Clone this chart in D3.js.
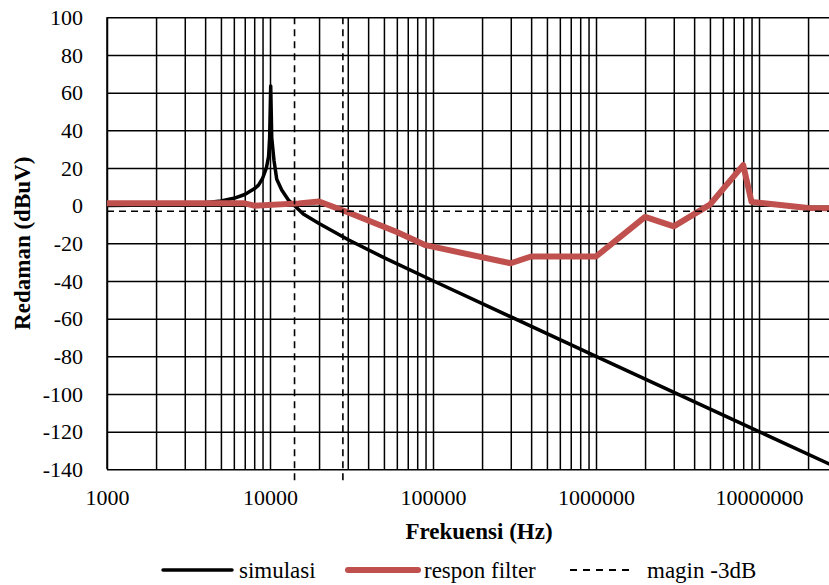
<!DOCTYPE html>
<html>
<head>
<meta charset="utf-8">
<script src="https://cdn.jsdelivr.net/npm/d3@7"></script>
<style>
  body { margin: 0; background: #fff; }
  text { font-family: "Liberation Serif", "Times New Roman", serif; fill: #000; }
</style>
</head>
<body>
<svg id="chart" width="829" height="585"></svg>
<script>
// simulasi (black)
const simFreq = [1000, 2000, 3000, 4000, 5000, 6000, 7000, 8000, 8500, 9000, 9500, 9800, 9950, 10100,
  10250, 10580, 11000, 11800, 13000, 14142, 16000, 20000, 30000, 50000, 100000, 1000000, 10000000, 30000000];
const simDb = [0.1, 0.4, 0.8, 1.5, 2.5, 3.9, 5.9, 8.9, 10.9, 14.4, 20, 26, 36, 63.5,
  36, 24, 14, 8.3, 2.9, 0, -4.4, -9.5, -18, -27.6, -39.9, -80, -120, -139];

// respon filter (red)
const filterFreq = [1000, 7000, 8000, 15000, 20000, 30000, 60000, 90000, 300000, 400000, 1000000,
  2000000, 3000000, 5000000, 8000000, 9000000, 20000000, 30000000];
const filterDb = [1.2, 1.2, 0, 1.2, 2.2, -3.5, -14, -21, -30.6, -27, -27,
  -6, -11, 0.5, 21.5, 2, -1.3, -1.5];

// magin -3dB (dashed)
const marginLevel = -3;
const marginFreqs = [14142, 28000];
const marginSpan = [100, -148];

const xTicks = [1000, 10000, 100000, 1000000, 10000000];
const yTicks = [-140, -120, -100, -80, -60, -40, -20, 0, 20, 40, 60, 80, 100];
const legendLabels = ["simulasi", "respon filter", "magin -3dB"];

const svg = d3.select("#chart");
const plotLeft = 107, plotTop = 17.3, plotBottom = 469.3;

const x = d3.scaleLog().domain([1000, 30000000]).range([plotLeft, plotLeft + 163 * Math.log10(30000)]);
const y = d3.scaleLinear().domain([-140, 100]).range([plotBottom, plotTop]);

// minor + major vertical grid (1..9 per decade)
let gridX = [];
for (let e = 3; e <= 7; e++) {
  for (let k = 1; k <= 9; k++) {
    const v = k * Math.pow(10, e);
    if (v <= 30000000) gridX.push(v);
  }
}

const gx = svg.append("g")
  .attr("transform", `translate(0,${plotBottom})`)
  .call(d3.axisBottom(x).tickValues(gridX).tickSize(-(plotBottom - plotTop)).tickFormat(""));
gx.select(".domain").remove();
gx.selectAll("line").attr("stroke", "#000").attr("stroke-width", 1.5);

const gy = svg.append("g")
  .attr("transform", `translate(${plotLeft},0)`)
  .call(d3.axisLeft(y).tickValues(yTicks).tickSize(-(x.range()[1] - plotLeft)).tickFormat(""));
gy.select(".domain").remove();
gy.selectAll("line").attr("stroke", "#000").attr("stroke-width", 1.5);

// left axis line
svg.append("line")
  .attr("x1", plotLeft).attr("x2", plotLeft)
  .attr("y1", plotTop).attr("y2", plotBottom)
  .attr("stroke", "#000").attr("stroke-width", 1.5);

// tick labels
const xa = svg.append("g")
  .attr("transform", `translate(0,${plotBottom})`)
  .call(d3.axisBottom(x).tickValues(xTicks).tickSize(0).tickPadding(20).tickFormat(d => String(d)));
xa.select(".domain").remove();
xa.selectAll("text").attr("font-size", 22).attr("font-family", "Liberation Serif");

const ya = svg.append("g")
  .attr("transform", `translate(${plotLeft},0)`)
  .call(d3.axisLeft(y).tickValues(yTicks).tickSize(0).tickPadding(24).tickFormat(d => String(d)));
ya.select(".domain").remove();
ya.selectAll("text").attr("font-size", 22).attr("font-family", "Liberation Serif");

// series
const line = d3.line().x(d => x(d[0])).y(d => y(d[1]));

svg.append("path")
  .datum(d3.zip(simFreq, simDb))
  .attr("d", line)
  .attr("fill", "none")
  .attr("stroke", "#000")
  .attr("stroke-width", 3.5)
  .attr("stroke-linejoin", "round");

svg.append("path")
  .datum(d3.zip(filterFreq, filterDb))
  .attr("d", line)
  .attr("fill", "none")
  .attr("stroke", "#C0504D")
  .attr("stroke-width", 6)
  .attr("stroke-linejoin", "round");

// magin lines
svg.append("path")
  .datum([[1000, marginLevel], [30000000, marginLevel]])
  .attr("d", line)
  .attr("fill", "none")
  .attr("stroke", "#000")
  .attr("stroke-width", 1.6)
  .attr("stroke-dasharray", "7,5");

marginFreqs.forEach(f => {
  svg.append("path")
    .datum(marginSpan.map(v => [f, v]))
    .attr("d", line)
    .attr("fill", "none")
    .attr("stroke", "#000")
    .attr("stroke-width", 1.6)
    .attr("stroke-dasharray", "7,5");
});

// axis titles
svg.append("text")
  .attr("x", 479).attr("y", 539)
  .attr("text-anchor", "middle")
  .attr("font-size", 23)
  .attr("font-weight", "bold")
  .text("Frekuensi (Hz)");

svg.append("text")
  .attr("transform", `translate(30,${(plotTop + plotBottom) / 2}) rotate(-90)`)
  .attr("text-anchor", "middle")
  .attr("font-size", 23)
  .attr("font-weight", "bold")
  .text("Redaman (dBuV)");

// legend
const legendY = 570;
const legendItems = [
  { x1: 163, x2: 232, tx: 239, color: "#000", width: 3.5, dash: null },
  { x1: 348, x2: 418, tx: 424, color: "#C0504D", width: 6, dash: null },
  { x1: 570, x2: 634, tx: 647, color: "#000", width: 1.8, dash: "7,6" }
];
legendItems.forEach((it, i) => {
  svg.append("line")
    .attr("x1", it.x1).attr("x2", it.x2)
    .attr("y1", legendY).attr("y2", legendY)
    .attr("stroke", it.color)
    .attr("stroke-width", it.width)
    .attr("stroke-linecap", it.dash ? "butt" : "round")
    .attr("stroke-dasharray", it.dash);
  svg.append("text")
    .attr("x", it.tx).attr("y", legendY + 8)
    .attr("font-size", 23)
    .text(legendLabels[i]);
});
</script>
</body>
</html>
